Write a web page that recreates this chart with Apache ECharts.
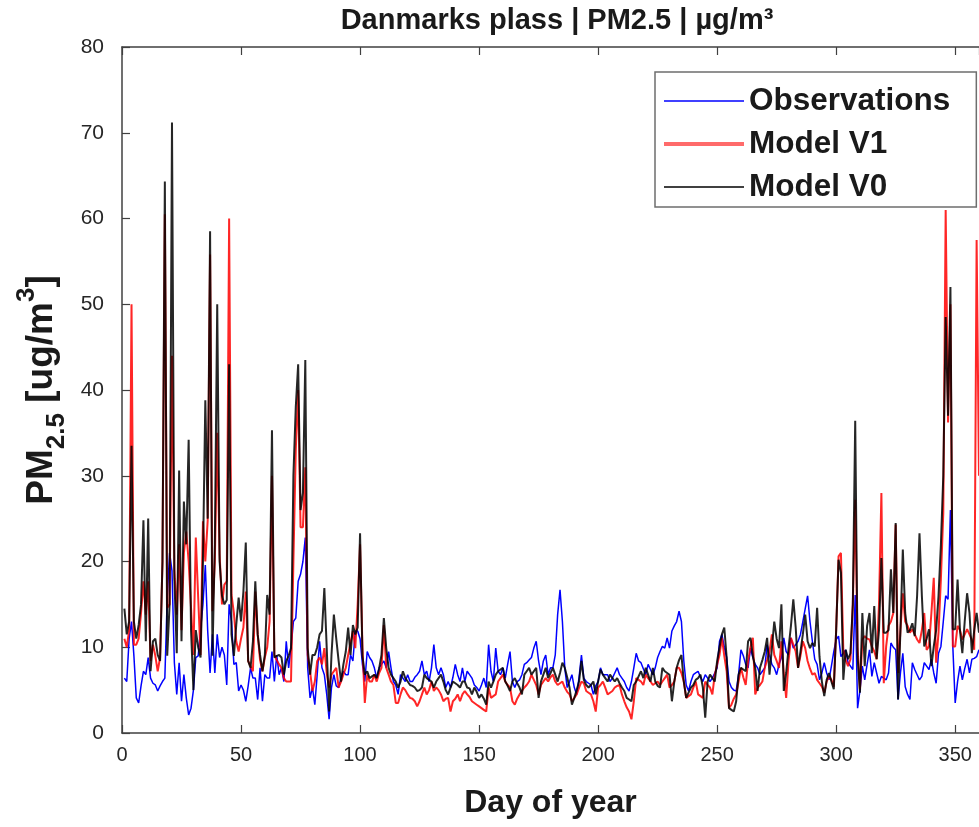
<!DOCTYPE html>
<html><head><meta charset="utf-8">
<script src="https://cdn.jsdelivr.net/npm/echarts@6/dist/echarts.min.js"></script>
<style>html,body{margin:0;padding:0;background:#fff}#c{width:979px;height:827px}</style>
</head><body><div id="c"></div>
<script>
const chartTitle = 'Danmarks plass | PM2.5 | µg/m³';
const xAxisName = 'Day of year';
const seriesNames = ['Observations', 'Model V1', 'Model V0'];
const xMin = 0, xMax = 360, xStep = 50;
const yMin = 0, yMax = 80, yStep = 10;

// Observations, day 1..360
const observations = [
  6.4, 6.0, 11, 13, 9, 4.1, 3.5, 5.5, 7.2, 6.8,
  8.8, 6.4, 5.8, 5.6, 4.9, 5.5, 6, 6.4, 15.8, 21,
  18.9, 8.2, 4.5, 8.2, 3.7, 6.8, 4.1, 2.1, 2.9, 5,
  8.8, 9, 12, 15, 19.6, 11.9, 7, 11.5, 7, 11.5,
  8.8, 10, 9.1, 5.6, 15, 13, 8, 8.2, 4.9, 5.6,
  5, 3.7, 5.5, 7.6, 6.4, 6.4, 3.9, 7.6, 3.7, 6.8,
  6.4, 6.4, 9.5, 6, 9.1, 6.8, 7.6, 6, 10.7, 7.6,
  9.9, 13, 13.4, 17.7, 18.5, 20, 22.8, 7.6, 4.1, 5.3,
  3.3, 6.8, 10.7, 7.6, 6.8, 4.5, 1.6, 5.3, 6.8, 5.5,
  5.3, 6.4, 7.2, 6.8, 6.8, 9.1, 8.4, 11.9, 11.9, 11,
  8, 6, 9.5, 8.8, 8.4, 7.6, 6.4, 7.6, 8, 8.4,
  7.6, 9.5, 7.6, 6, 5.6, 4.5, 6.8, 6.4, 6, 6.8,
  6, 6, 6.5, 6.8, 7.2, 8.4, 6.8, 7.2, 6, 7.6,
  10.3, 7.6, 6.8, 7.6, 6.8, 5.3, 6, 5.3, 6.5, 8,
  6.8, 6, 7.6, 6, 7.2, 6.8, 6.4, 5.6, 5.3, 4.9,
  5.6, 6.4, 5.3, 10.3, 7.2, 6, 9.9, 7.2, 6.8, 7.6,
  6.4, 8, 9.5, 6, 5.3, 6, 6.2, 6.8, 8, 8.2,
  8.5, 8.8, 9.9, 10.7, 8.4, 6.8, 8.4, 9.1, 6.8, 7.6,
  7.6, 9.1, 13.8, 16.7, 13, 7.6, 5.3, 6, 6.8, 5.3,
  4.5, 6.5, 9.1, 6.4, 6, 5.8, 5.6, 4.5, 5.5, 6,
  7.6, 6.8, 6.8, 6.8, 6, 6.4, 7, 7.6, 6.8, 6.4,
  6, 5.3, 4.9, 6, 7.6, 9.3, 8.4, 8.2, 7.5, 6.8,
  8, 7.4, 6.8, 7.6, 8.8, 9.5, 10.1, 9.9, 11.1, 9.9,
  11.9, 12.5, 13, 14.2, 13, 8.4, 5.6, 4.9, 6, 6.8,
  7, 7.2, 6.5, 6, 6.8, 6.4, 6, 6.4, 7, 7.6,
  10.7, 11.5, 10, 8.8, 6, 5.3, 5, 4.9, 6.8, 9.7,
  9, 8, 7.6, 9.9, 8.8, 8, 7.6, 6.8, 7.2, 7.6,
  10.3, 9.1, 8, 7.6, 6.8, 8, 8.8, 11.1, 9.5, 9.1,
  11.1, 9.9, 10.3, 10.7, 11.5, 13, 14.5, 16, 13, 10.7,
  8.6, 8, 6.2, 7, 8.2, 7, 6.2, 7.8, 9.5, 10.9,
  11.3, 8.9, 9.3, 9.7, 8.2, 7.8, 7.4, 16.1, 2.9, 5,
  7.8, 6.2, 8, 9.7, 6.6, 8.2, 7, 5.8, 6.6, 6.4,
  6.2, 7, 10.5, 10, 9.7, 3.9, 7, 9.3, 5.4, 4.5,
  3.9, 8.2, 7.4, 6.8, 6.2, 6.6, 8.2, 7.8, 7.4, 8.6,
  7, 5.8, 9.3, 10.1, 13, 16, 15.6, 26, 10.1, 3.5,
  6, 7.8, 6.2, 7.5, 8.6, 7, 8.6, 8.7, 8.9, 9.7
];

// Model V1, day 1..360
const modelV1 = [
  11, 10, 12, 50, 10.3, 10.3, 11, 14, 17.7, 13.8,
  17.7, 8.4, 10.3, 9, 7.2, 8.8, 20, 60.5, 14.6, 15,
  44, 19, 13.8, 22, 12, 21, 23.5, 20, 14.6, 9.1,
  22.8, 15.8, 9.1, 24.7, 20, 24.8, 55.8, 14.2, 20, 35,
  20.8, 15, 17.3, 17.7, 60, 16.1, 14, 10.7, 9.5, 11,
  12.3, 16.5, 8.4, 7.8, 7.2, 16.5, 11.5, 8.5, 7.2, 8.8,
  10, 13, 30, 9.1, 8.5, 8, 7.6, 6.4, 6, 6,
  6, 20, 33, 40, 24, 24, 31, 9.1, 7.2, 4.9,
  6, 8.4, 8.8, 8, 9.9, 7, 5.3, 6.8, 7.2, 7.6,
  5.3, 6, 6.8, 7.6, 9.1, 10.5, 11.9, 9.9, 15, 22,
  10, 3.5, 6.8, 6, 6, 6.8, 6, 7, 7.6, 12.6,
  7.6, 6.8, 6, 5.6, 3.5, 3.5, 4.5, 5.3, 5, 4.5,
  4.1, 4, 3.7, 3.1, 3.7, 4.5, 5.3, 4.5, 5, 6,
  4.9, 5.3, 5, 4.5, 3.7, 4, 4.1, 2.5, 3.7, 4,
  4.5, 3.7, 4.5, 4.9, 4.5, 4.2, 3.7, 3.5, 3.3, 3.1,
  2.9, 2.7, 2.5, 5.3, 4.1, 4.3, 4.5, 6, 6.4, 6.8,
  6, 5.6, 5.3, 3.7, 3.3, 4, 4.5, 4.9, 5.3, 5.6,
  6, 6.8, 6.2, 5.6, 4.5, 5.6, 6, 6.4, 6, 6.5,
  6.8, 6, 5.6, 5.8, 6, 5.3, 4.8, 4.5, 3.7, 4.1,
  4.5, 5.3, 6, 5.8, 4.9, 4.7, 4.5, 3.7, 2.5, 5.3,
  5.6, 6, 5.3, 4.5, 4.7, 4.9, 5.3, 5.5, 5.6, 4.5,
  3.7, 3, 2.5, 1.6, 3.7, 6.4, 6.2, 6, 5.6, 6.8,
  6.4, 6, 5.6, 5.8, 6, 5.6, 6, 6.4, 6.8, 5.3,
  5.6, 6, 7.6, 7.6, 7, 6, 4.1, 4.3, 4.5, 5.3,
  6, 4.5, 4.3, 4.1, 6, 5.6, 5.3, 4.5, 6.8, 8,
  9.1, 11.1, 9, 7.2, 2.9, 3.3, 4, 4.5, 6, 7.6,
  6.5, 5.6, 8.4, 10, 11.1, 4.5, 5.3, 5.6, 6, 7.6,
  8.5, 9.5, 11.5, 9.1, 8.4, 7.6, 10.7, 7, 4.1, 8.4,
  11.1, 10.3, 9.5, 7.6, 9, 10.7, 9.9, 8.4, 7.5, 6.8,
  7, 6.2, 5.8, 5.4, 4.7, 6, 6.6, 6.2, 5.4, 12,
  20.6, 21, 9.7, 8.5, 7.8, 8.6, 15, 27.2, 10, 5.1,
  10.9, 11.3, 11, 10.9, 10.1, 9.5, 8.6, 15, 28, 5.8,
  10.1, 12.5, 13, 14, 24.3, 7, 12, 16.3, 13, 12.5,
  11.7, 12.1, 11.5, 10.9, 10.5, 12, 14, 9.7, 10.1, 14,
  18.1, 8.2, 11.7, 18, 25.7, 61, 36.2, 50, 10.1, 10.1,
  12.5, 12, 10.9, 11.5, 12.1, 11.5, 10.9, 9.7, 57.5, 30
];

// Model V0, day 1..360
const modelV0 = [
  14.5, 11.5, 13, 33.5, 13, 11, 12.6, 15, 24.8, 10.7,
  25, 7.2, 10.7, 11, 9.1, 8.4, 20, 64.3, 9, 15,
  71.2, 18, 9.3, 30.6, 10.7, 27, 22, 34.2, 12, 5,
  12, 10, 8.8, 20, 38.8, 25, 58.5, 9, 22, 50,
  20, 16, 15, 15.5, 43, 11.5, 9, 12.6, 15.8, 13,
  16.5, 22.2, 8.4, 7.6, 10.7, 17.7, 11.5, 9.1, 7.2, 9.1,
  16.1, 13.8, 35.3, 8.8, 9, 9.1, 8.8, 6.8, 8.4, 9,
  9.9, 30, 38, 43, 26, 28, 43.5, 9.9, 6.8, 9.1,
  9.1, 10, 11.5, 11.9, 16.9, 9.9, 2.5, 9.1, 13.8, 11,
  8.4, 6, 8, 9.5, 12.3, 9.1, 12.6, 11.5, 12.3, 23.3,
  9, 6.8, 7.2, 6.4, 6.6, 6.8, 6.4, 7.5, 9.1, 13.4,
  9.9, 7.6, 6.8, 6.4, 6, 5.3, 6, 7.2, 6.4, 6,
  5.6, 5.5, 5.3, 4.9, 5, 5.3, 6.8, 6.4, 6.2, 6,
  5.3, 6, 6.4, 6.8, 6, 5, 4.5, 5.3, 6, 5.8,
  5.6, 5.3, 6, 6, 5.3, 5.2, 4.5, 5.3, 4.8, 4.1,
  4.5, 4, 3.3, 6, 5.3, 6, 6.8, 7.2, 7.4, 7.6,
  6, 5.5, 4.9, 6, 6.4, 5.8, 5.3, 4.5, 6.8, 7.2,
  7.6, 6.8, 7.2, 7.6, 4.1, 6, 6.8, 7.6, 6.4, 7,
  7.6, 6.8, 6, 7, 8.2, 7.6, 6.5, 5.3, 3.3, 4.1,
  5, 6, 8.4, 6.2, 5.6, 5.3, 5.6, 6, 4.5, 6,
  7.4, 6.8, 6.4, 6, 6.8, 6.4, 6, 6.4, 5.8, 5.3,
  4.9, 4.1, 3.9, 3.7, 5.6, 6, 6.6, 7.2, 6.4, 7.6,
  6.8, 6, 7.6, 6, 5.5, 5.3, 7.6, 7.2, 7, 6.8,
  3.7, 6, 7.6, 8.5, 9.1, 6, 4.1, 4.7, 5.3, 5.6,
  6.2, 6.4, 6.8, 5.3, 1.8, 6, 6.8, 6.4, 6, 8.4,
  10, 11.5, 12.3, 8.8, 2.9, 2.7, 2.5, 3.7, 6.8, 7.6,
  7.4, 7.2, 10.7, 11.1, 9, 7.6, 4.9, 7.6, 8.5, 9.5,
  11.1, 6.8, 9.9, 13, 11, 9.9, 15, 4.9, 7, 9.9,
  12.5, 15.6, 12.3, 7.6, 9.5, 11.5, 13.8, 10.7, 9.9, 10.5,
  10.1, 14.6, 8.9, 6, 4.3, 6.2, 7, 6, 5.1, 12,
  20.2, 18.7, 6.2, 9.7, 8.6, 9.3, 15, 36.4, 8.9, 4.7,
  14, 7.8, 12.5, 14, 9.3, 14.8, 8.6, 12, 20.4, 11.7,
  11.7, 12, 19.1, 14, 24.5, 3.9, 12, 21.4, 14, 11.7,
  12, 12.8, 11.3, 16, 23.3, 16, 10.1, 11, 12.1, 7.8,
  10.1, 12, 16, 22, 30, 48.5, 37, 52, 12.1, 12.1,
  17.9, 12, 9.3, 13, 16.3, 14, 9.3, 12, 14, 11.7
];

const FONT = "'Liberation Sans', Arial, Helvetica, sans-serif";
const AXIS_COLOR = '#404040';
const TEXT_COLOR = '#1a1a1a';

const toPairs = arr => arr.map((v, i) => [i + 1, v]);

const chart = echarts.init(document.getElementById('c'), null, { renderer: 'canvas' });

const option = {
  backgroundColor: '#ffffff',
  animation: false,
  title: {
    text: chartTitle,
    left: 557,
    top: 6,
    padding: 0,
    textAlign: 'center',
    textStyle: { fontFamily: FONT, fontSize: 29, fontWeight: 'bold', color: TEXT_COLOR }
  },
  grid: { left: 122, right: 0, top: 47, bottom: 94, containLabel: false },
  legend: {
    orient: 'vertical',
    left: 655,
    top: 72,
    padding: [13, 26, 4, 7],
    itemGap: 11,
    itemWidth: 80,
    itemHeight: 14,
    backgroundColor: '#ffffff',
    borderColor: '#6e6e6e',
    borderWidth: 1.5,
    borderRadius: 0,
    itemStyle: { opacity: 0 },
    textStyle: { fontFamily: FONT, fontSize: 31.5, fontWeight: 'bold', color: TEXT_COLOR, lineHeight: 30 },
    data: [
      { name: seriesNames[0], itemStyle: { opacity: 0 }, lineStyle: { color: '#0000ff', width: 1.5, opacity: 1 } },
      { name: seriesNames[1], itemStyle: { opacity: 0 }, lineStyle: { color: '#ff6b6b', width: 4, opacity: 1 } },
      { name: seriesNames[2], itemStyle: { opacity: 0 }, lineStyle: { color: '#000000', width: 1.5, opacity: 1 } }
    ]
  },
  xAxis: [
    {
      type: 'value', position: 'bottom', min: xMin, max: xMax, interval: xStep,
      name: xAxisName, nameLocation: 'middle', nameGap: 54,
      nameTextStyle: { fontFamily: FONT, fontSize: 32, fontWeight: 'bold', color: TEXT_COLOR },
      axisLine: { show: true, lineStyle: { color: AXIS_COLOR, width: 1.5 } },
      axisTick: { show: true, inside: true, length: 8, lineStyle: { color: AXIS_COLOR, width: 1.2 } },
      axisLabel: { show: true, margin: 12, showMaxLabel: false, fontFamily: FONT, fontSize: 20, color: '#262626' },
      splitLine: { show: false }
    },
    {
      type: 'value', position: 'top', min: xMin, max: xMax, interval: xStep,
      axisLine: { show: true, lineStyle: { color: AXIS_COLOR, width: 1.5 } },
      axisTick: { show: true, inside: true, length: 8, lineStyle: { color: AXIS_COLOR, width: 1.2 } },
      axisLabel: { show: false },
      splitLine: { show: false }
    }
  ],
  yAxis: {
    type: 'value', min: yMin, max: yMax, interval: yStep,
    name: '{b|PM}{sub|2.5}{b| [ug/m}{sup|3}{b|]}',
    nameLocation: 'middle', nameGap: 52, nameRotate: 90,
    nameTextStyle: {
      fontFamily: FONT, fontSize: 37, fontWeight: 'bold', color: TEXT_COLOR,
      rich: {
        b: { fontFamily: FONT, fontSize: 37, fontWeight: 'bold', color: TEXT_COLOR, lineHeight: 56, verticalAlign: 'middle' },
        sub: { fontFamily: FONT, fontSize: 26, fontWeight: 'bold', color: TEXT_COLOR, lineHeight: 34, verticalAlign: 'bottom' },
        sup: { fontFamily: FONT, fontSize: 26, fontWeight: 'bold', color: TEXT_COLOR, lineHeight: 42, verticalAlign: 'top' }
      }
    },
    axisLine: { show: true, lineStyle: { color: AXIS_COLOR, width: 1.5 } },
    axisTick: { show: true, inside: true, length: 8, lineStyle: { color: AXIS_COLOR, width: 1.2 } },
    axisLabel: { show: true, margin: 18, fontFamily: FONT, fontSize: 21, color: '#262626' },
    splitLine: { show: false }
  },
  series: [
    { name: seriesNames[0], type: 'line', data: toPairs(observations), showSymbol: false, symbol: 'none',
      lineStyle: { color: '#0000ff', width: 1.5 }, itemStyle: { color: '#0000ff' }, z: 2 },
    { name: seriesNames[1], type: 'line', data: toPairs(modelV1), showSymbol: false, symbol: 'none',
      lineStyle: { color: '#ff0000', width: 2, opacity: 0.85 }, itemStyle: { color: '#ff0000' }, z: 3 },
    { name: seriesNames[2], type: 'line', data: toPairs(modelV0), showSymbol: false, symbol: 'none',
      lineStyle: { color: '#000000', width: 2, opacity: 0.85 }, itemStyle: { color: '#000000' }, z: 4 }
  ]
};

chart.setOption(option);
</script>
</body></html>
